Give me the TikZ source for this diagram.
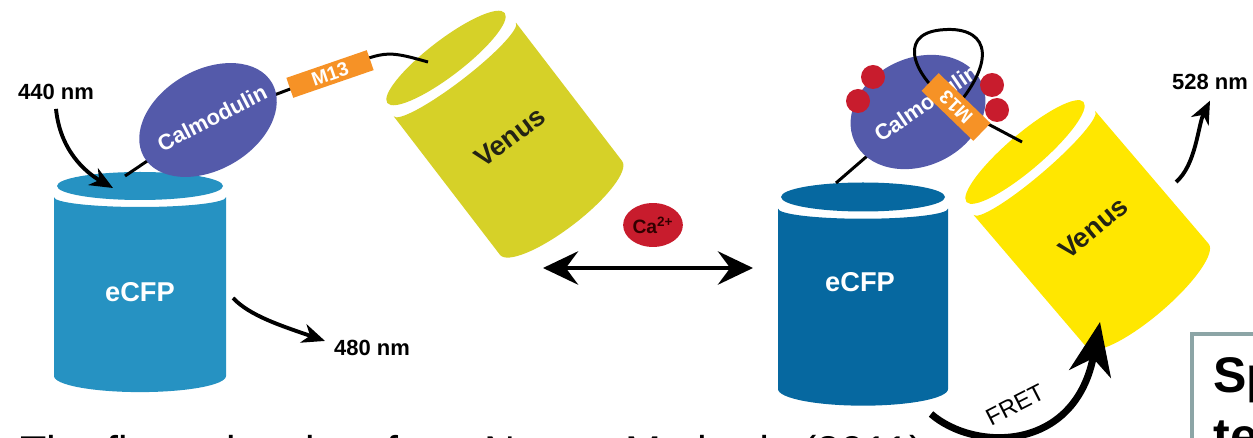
\documentclass[tikz,border=0pt]{standalone}
\usepackage{fontspec}
\setmainfont{Liberation Sans}
\usepackage{tikz}
\usetikzlibrary{positioning,calc,arrows.meta,shapes.geometric}
\tikzset{>=stealth}

\definecolor{cfpA}{RGB}{38,146,194}
\definecolor{cfpB}{RGB}{6,104,160}
\definecolor{venusA}{RGB}{214,209,40}
\definecolor{venusB}{RGB}{255,231,0}
\definecolor{calmblue}{RGB}{84,90,170}
\definecolor{mthirteen}{RGB}{246,146,38}
\definecolor{cared}{RGB}{200,28,45}
\definecolor{venustext}{RGB}{35,35,20}
\definecolor{boxgrey}{RGB}{140,165,166}

\tikzset{
  nmlabel/.style={inner sep=0pt, font=\bfseries\fontsize{12.5}{14}\selectfont},
  protext/.style={inner sep=0pt, font=\bfseries\fontsize{15.5}{17}\selectfont},
  camtext/.style={inner sep=0pt, text=white, font=\bfseries\fontsize{12.5}{14}\selectfont},
  calm/.style={ellipse, fill=calmblue, inner sep=0pt},
  pep/.style={rectangle, fill=mthirteen, inner sep=0pt, text=white,
    font=\bfseries\fontsize{11}{12}\selectfont},
  ion/.style={ellipse, fill=cared, inner sep=0pt, minimum width=34pt, minimum height=25pt,
    text=black!80!red, font=\bfseries\fontsize{11}{12}\selectfont},
  linker/.style={line width=1.7pt, black},
  bent/.style={line width=2.2pt, -{Stealth[length=13pt,width=11pt,inset=4pt]}},
  equil/.style={line width=2.3pt,
    {Stealth[length=20pt,width=19pt,inset=7pt]}-{Stealth[length=20pt,width=19pt,inset=7pt]}},
  fret/.style={line width=4pt, -{Stealth[length=30pt,width=24pt,inset=9pt]}},
  frettext/.style={inner sep=0pt, font=\fontsize{13.5}{15}\selectfont},
  notebox/.style={draw=boxgrey, line width=2.8pt},
  notetext/.style={inner sep=0pt, font=\bfseries\fontsize{28.5}{30}\selectfont},
  captext/.style={inner sep=0pt, font=\fontsize{24.5}{28}\selectfont}
}

% lid centre, tilt, radius, length, lid half height, colour, name
\newcommand{\drawcan}[7]{%
  \begin{scope}[shift={#1},rotate=#2]
    \fill[#6] (-#3,0.8*#5) arc[start angle=180,end angle=0,x radius=#3,y radius=0.7*#5]
      -- (#3,#4) arc[start angle=0,end angle=180,x radius=#3,y radius=1.15*#5] -- cycle;
    \fill[#6] (0,0) ellipse[x radius=#3-3,y radius=#5];
    \coordinate (#7) at (0,0);
  \end{scope}}

\begin{document}
\begin{tikzpicture}[x=0.02cm,y=-0.02cm]
\useasboundingbox (0,0) rectangle (1253,438);

% without calcium
\drawcan{(140,186)}{0}{86}{190}{14}{cfpA}{lcfp}
\drawcan{(446,58)}{37.5}{77}{189}{18}{venusA}{lvenus}
\node[protext,text=white] (lcfpname) at (140,292) {eCFP};
\node[protext,text=venustext,rotate=37] (lvenusname) at (510,137) {Venus};

\coordinate (lcam) at (208,120);
\coordinate (lmt) at (330,74);
\coordinate (lcfplink) at (125,176);
\coordinate (lvenuslink) at (428,62);
\draw[linker] (lcfplink) -- (lcam) -- (lmt) .. controls (385,50) .. (lvenuslink);
\node[calm,minimum width=84.2pt,minimum height=56.9pt,rotate=30] (lcalm) at (lcam) {};
\node[camtext,rotate=27] (lcalmname) at (212,118) {Calmodulin};
\node[pep,minimum width=48.4pt,minimum height=12pt,rotate=19] (lm13) at (lmt) {M13};

\node[nmlabel] (l440) at (56,92) {440 nm};
\coordinate (lcfpin) at (113,188);
\draw[bent] ([yshift=-5pt]l440.south) .. controls (60,150) and (85,172) .. (lcfpin);
\coordinate (lcfpout) at (233,298);
\node[nmlabel] (l480) at (372,348) {480 nm};
\draw[bent] (lcfpout) .. controls (250,316) and (282,326) .. ([xshift=-5pt,yshift=4pt]l480.west);

% calcium binding
\node[ion] (ca) at (653,225) {Ca\textsuperscript{2+}};
\coordinate (eqleft) at (543,268);
\coordinate (eqright) at (753,268);
\draw[equil] (eqleft) -- (eqright);

% with calcium
\drawcan{(863,197)}{0}{85}{192}{14.5}{cfpB}{rcfp}
\drawcan{(1025,152)}{40.5}{80}{189}{18}{venusB}{rvenus}
\node[protext,text=white] (rcfpname) at (860,282) {eCFP};
\node[protext,text=venustext,rotate=40] (rvenusname) at (1093,228) {Venus};

\coordinate (rcam) at (918,112);
\coordinate (rmt) at (956,107);
\coordinate (rcfplink) at (836,183);
\coordinate (rvenuslink) at (1022,142);
\draw[linker] (rcfplink) -- (rcam);
\node[calm,minimum width=79.7pt,minimum height=61.4pt,rotate=25] (rcalm) at (rcam) {};
\node[camtext,rotate=34] (rcalmname) at (926,103) {Calmodulin};
\foreach \p in {(873,77),(858,101),(992,85),(997,110)}
  \fill[cared] \p circle[radius=12];
\draw[linker] (rmt) .. controls (915,80) and (895,35) .. (940,30)
  .. controls (985,25) and (1000,55) .. (rmt);
\draw[linker] (rmt) -- (rvenuslink);
\node[pep,minimum width=41pt,minimum height=14pt,rotate=136] (rm13) at (rmt) {M13};

\node[nmlabel] (l528) at (1210,82) {528 nm};
\coordinate (rvenusout) at (1176,182);
\draw[bent] (rvenusout) .. controls (1196,165) and (1198,125) .. ([yshift=-6pt]l528.south);

\coordinate (fretstart) at (931,414);
\coordinate (fretend) at (1100,322);
\draw[fret] (fretstart) .. controls (975,452) and (1075,452) .. (fretend);
\node[frettext,rotate=27] (fretname) at (1015,405) {FRET};

\draw[notebox] (1192,334) rectangle (1300,480);
\node[notetext,anchor=base west] (noteA) at (1213,393) {Sp};
\node[notetext,anchor=base west] (noteB) at (1213,453) {te};
\node[captext,anchor=base west] (cap) at (20,466) {The figure is taken from Nature Methods (2011)};
\end{tikzpicture}
\end{document}
